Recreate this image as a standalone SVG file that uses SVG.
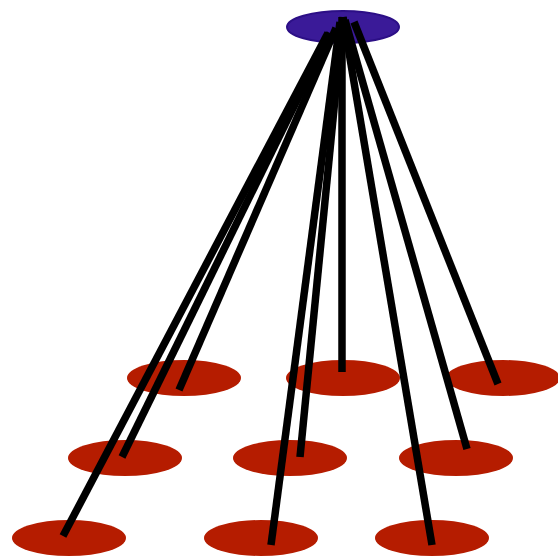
<svg xmlns="http://www.w3.org/2000/svg" width="558" height="556" viewBox="0 0 558 556">
<style>
.root{fill:#3a1a98;stroke:#2c0f86;stroke-width:2}
.leaf{fill:#b51c00}
.edge{stroke:#000;stroke-width:7.5;fill:none;stroke-linecap:butt}
</style>
<rect width="558" height="556" fill="#fff"/>
<g id="nodes">
<g id="n0"><ellipse class="root" cx="343" cy="27" rx="56" ry="16"/></g>
<g id="n1"><ellipse class="leaf" cx="184" cy="378" rx="57" ry="18"/></g>
<g id="n2"><ellipse class="leaf" cx="343" cy="378" rx="57" ry="18"/></g>
<g id="n3"><ellipse class="leaf" cx="503" cy="378" rx="57" ry="18"/></g>
<g id="n4"><ellipse class="leaf" cx="125" cy="458" rx="57" ry="18"/></g>
<g id="n5"><ellipse class="leaf" cx="290" cy="458" rx="57" ry="18"/></g>
<g id="n6"><ellipse class="leaf" cx="456" cy="458" rx="57" ry="18"/></g>
<g id="n7"><ellipse class="leaf" cx="69" cy="538" rx="57" ry="18"/></g>
<g id="n8"><ellipse class="leaf" cx="261" cy="538" rx="57" ry="18"/></g>
<g id="n9"><ellipse class="leaf" cx="432" cy="538" rx="57" ry="18"/></g>
</g>
<g id="edges">
<line class="edge" x1="328" y1="33" x2="63" y2="536"/>
<line class="edge" x1="330" y1="33" x2="122" y2="457"/>
<line class="edge" x1="336" y1="28" x2="179" y2="390"/>
<line class="edge" x1="340" y1="22" x2="271" y2="545"/>
<line class="edge" x1="343" y1="17" x2="300" y2="457"/>
<line class="edge" x1="342" y1="17" x2="342" y2="372"/>
<line class="edge" x1="343" y1="17" x2="432" y2="545"/>
<line class="edge" x1="345" y1="20" x2="467" y2="449"/>
<line class="edge" x1="354" y1="22" x2="498" y2="384"/>
</g>
</svg>
